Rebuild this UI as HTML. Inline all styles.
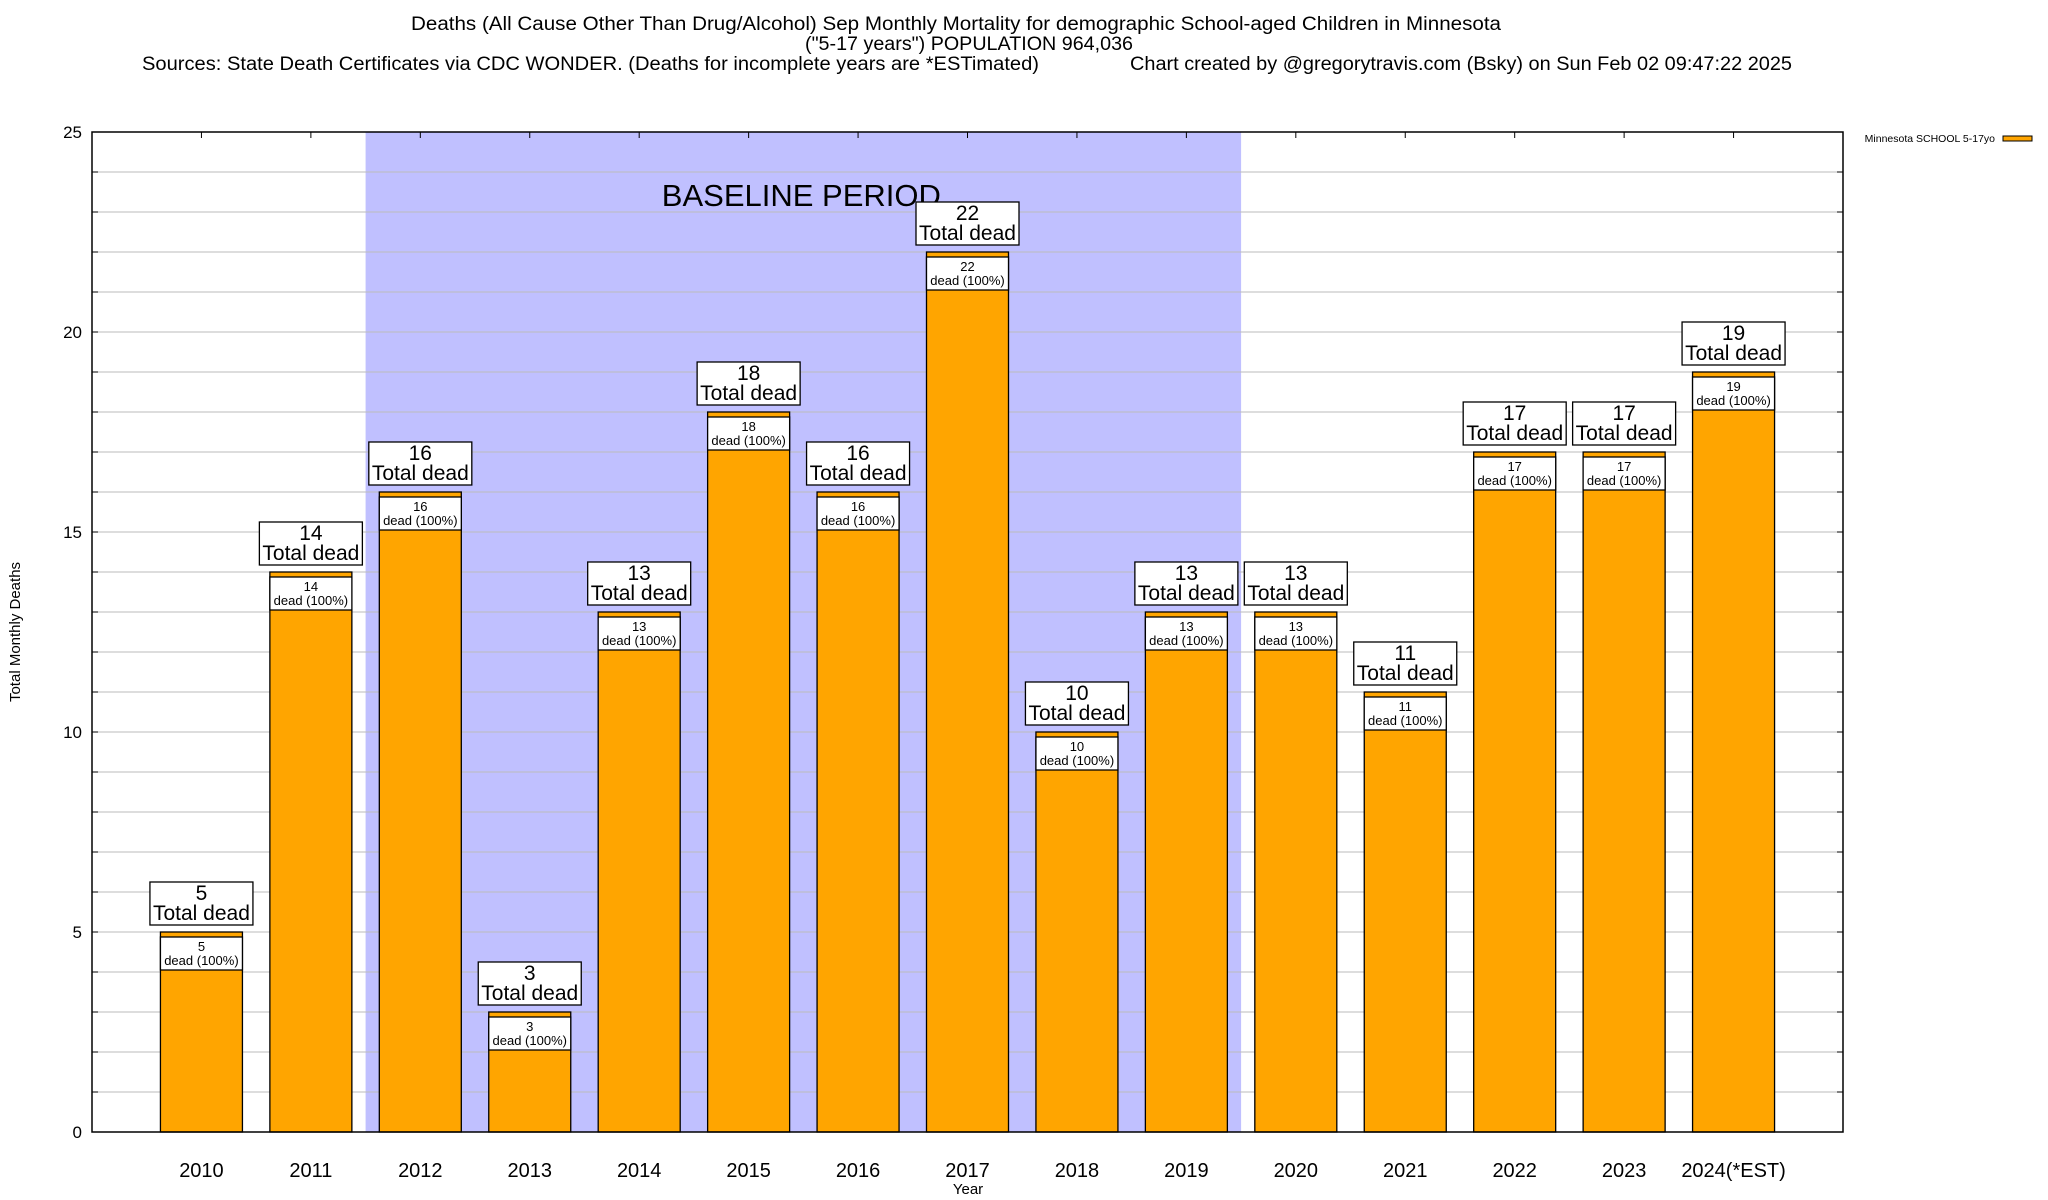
<!DOCTYPE html>
<html><head><meta charset="utf-8"><style>
html,body{margin:0;padding:0;background:#fff;}
svg{display:block;font-family:"Liberation Sans",sans-serif;}
</style></head><body>
<svg id="chart" width="2048" height="1200" xmlns="http://www.w3.org/2000/svg">
<rect width="2048" height="1200" fill="#fff"/>
<g>
<text x="956" y="30" font-size="19" text-anchor="middle" textLength="1090" lengthAdjust="spacingAndGlyphs">Deaths (All Cause Other Than Drug/Alcohol) Sep Monthly Mortality for demographic School-aged Children in Minnesota</text>
<text x="969" y="50" font-size="19" text-anchor="middle" textLength="328" lengthAdjust="spacingAndGlyphs">("5-17 years") POPULATION 964,036</text>
<text x="142" y="70" font-size="19" textLength="897" lengthAdjust="spacingAndGlyphs">Sources: State Death Certificates via CDC WONDER. (Deaths for incomplete years are *ESTimated)</text>
<text x="1130" y="70" font-size="19" textLength="662" lengthAdjust="spacingAndGlyphs">Chart created by @gregorytravis.com (Bsky) on Sun Feb 02 09:47:22 2025</text>
</g>
<g id="plot"></g>
<text transform="translate(20,632) rotate(-90)" font-size="15" text-anchor="middle">Total Monthly Deaths</text>
<text x="968" y="1194" font-size="15" text-anchor="middle">Year</text>
<g>
<text x="1995" y="142" font-size="10.5" text-anchor="end">Minnesota SCHOOL 5-17yo</text>
<rect x="2003" y="136" width="29" height="5" fill="#ffa500" stroke="#000" stroke-width="1"/>
</g>
</svg>
<script>
const years = ["2010","2011","2012","2013","2014","2015","2016","2017","2018","2019","2020","2021","2022","2023","2024(*EST)"];
const deaths = [5,14,16,3,13,18,16,22,10,13,13,11,17,17,19];
const yTicks = [0,5,10,15,20,25];
const baselineRange = [2012, 2019];

const NS="http://www.w3.org/2000/svg";
const L=92,R=1843,T=132,B=1132;
const slot=(R-L)/16;
const xS=i=>L+slot*(i+1);
const yS=v=>B-(B-T)*v/25;
const g=document.getElementById('plot');
function mk(tag,attrs,parent){const e=document.createElementNS(NS,tag);for(const k in attrs)e.setAttribute(k,attrs[k]);(parent||g).appendChild(e);return e;}

const bi0=years.indexOf(String(baselineRange[0])), bi1=years.indexOf(String(baselineRange[1]));
const shade=mk('rect',{x:xS(bi0)-slot/2,y:T,width:xS(bi1)-xS(bi0)+slot,height:B-T,fill:'#c0c0ff'});


for(let v=1;v<25;v++){
  const gl=mk('line',{x1:L,x2:R,y1:yS(v),y2:yS(v),stroke:'#bbb','stroke-width':1});
  
  
  mk('line',{x1:L,x2:L+6,y1:yS(v),y2:yS(v),stroke:'#000'});
  mk('line',{x1:R-6,x2:R,y1:yS(v),y2:yS(v),stroke:'#000'});
}
const bt=mk('text',{x:(xS(bi0)+xS(bi1))/2-2,y:206,'font-size':31,'text-anchor':'middle'});
bt.textContent='BASELINE PERIOD';


yTicks.forEach(v=>{
  const t=mk('text',{x:82,y:yS(v)+6,'font-size':17,'text-anchor':'end'});
  t.textContent=v;
  
  
});
const bw=82;
years.forEach((yr,i)=>{
  const cx=xS(i), v=deaths[i], top=yS(v);
  mk('line',{x1:cx,x2:cx,y1:T,y2:T+6,stroke:'#000'});
  const bar=mk('rect',{x:cx-bw/2,y:top,width:bw,height:B-top,fill:'#ffa500',stroke:'#000','stroke-width':1.3});
  
  
  mk('rect',{x:cx-bw/2,y:top+5,width:bw,height:33,fill:'#fff',stroke:'#000','stroke-width':1.3});
  const t1=mk('text',{x:cx,y:top+19,'font-size':13,'text-anchor':'middle'});t1.textContent=v;
  const t2=mk('text',{x:cx,y:top+33,'font-size':13,'text-anchor':'middle'});t2.textContent='dead (100%)';
  const box=mk('rect',{x:cx-51.5,y:top-50,width:103,height:43,fill:'#fff',stroke:'#000','stroke-width':1.3});
  
  
  const a=mk('text',{x:cx,y:top-32,'font-size':21,'text-anchor':'middle'});a.textContent=v;
  const b=mk('text',{x:cx,y:top-12,'font-size':21,'text-anchor':'middle'});b.textContent='Total dead';
  const xl=mk('text',{x:cx,y:1177,'font-size':20,'text-anchor':'middle'});xl.textContent=yr;
  
  
});
const frame=mk('rect',{x:L,y:T,width:R-L,height:B-T,fill:'none',stroke:'#000','stroke-width':1.5});


</script>
</body></html>
